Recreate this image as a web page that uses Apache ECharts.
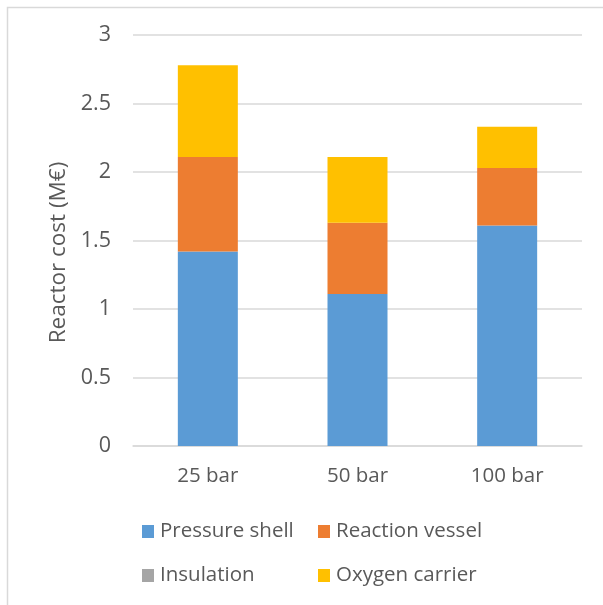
<!DOCTYPE html>
<html>
<head>
<meta charset="utf-8">
<script src="https://cdn.jsdelivr.net/npm/echarts@6/dist/echarts.min.js"></script>
<style>
  html, body { margin: 0; padding: 0; background: #fff; }
  #chart { width: 603px; height: 605px; }
</style>
</head>
<body>
<div id="chart"></div>
<script>
// Reactor cost breakdown per operating pressure (M€)
const categories = ['25 bar', '50 bar', '100 bar'];
const pressureShell = [1.42, 1.11, 1.61];
const reactionVessel = [0.69, 0.52, 0.42];
const insulation = [0, 0, 0];
const oxygenCarrier = [0.67, 0.48, 0.30];
const yTicks = { min: 0, max: 3, step: 0.5 };

const FONT = '"Open Sans", sans-serif';
const TEXT = '#595959';

const chart = echarts.init(document.getElementById('chart'), null, { renderer: 'canvas' });

function bar(name, data, color) {
  return {
    name, type: 'bar', stack: 'cost', data,
    barWidth: 60,
    itemStyle: { color },
    emphasis: { disabled: true }
  };
}

const legendCommon = {
  orient: 'vertical', top: 516, itemGap: 23,
  itemWidth: 12, itemHeight: 13, icon: 'rect',
  textStyle: { fontFamily: FONT, fontSize: 20.5, color: TEXT, padding: [0, 0, 0, 1] }
};

chart.setOption({
  animation: false,
  backgroundColor: '#fff',
  graphic: [{
    type: 'rect',
    shape: { x: 7.5, y: 7.5, width: 700, height: 700 },
    style: { fill: 'none', stroke: '#d9d9d9', lineWidth: 1.5 },
    silent: true
  }],
  grid: { left: 133, right: 21, top: 35, bottom: 159 },
  legend: [
    Object.assign({ left: 137, data: ['Pressure shell', 'Insulation'] }, legendCommon),
    Object.assign({ left: 313, data: ['Reaction vessel', 'Oxygen carrier'] }, legendCommon)
  ],
  xAxis: {
    type: 'category',
    data: categories,
    axisLine: { lineStyle: { color: '#d9d9d9', width: 1.5 } },
    axisTick: { show: false },
    axisLabel: { fontFamily: FONT, fontSize: 20.5, color: TEXT, margin: 20 }
  },
  yAxis: {
    type: 'value',
    min: yTicks.min, max: yTicks.max, interval: yTicks.step,
    name: 'Reactor cost (M€)',
    nameLocation: 'middle',
    nameGap: 58,
    nameTextStyle: { fontFamily: FONT, fontSize: 22.5, color: TEXT, padding: [0, 24, 0, 0] },
    axisLine: { show: false },
    axisTick: { show: false },
    axisLabel: { fontFamily: FONT, fontSize: 21.5, color: TEXT, margin: 22 },
    splitLine: { lineStyle: { color: '#d9d9d9', width: 1.5 } }
  },
  series: [
    bar('Pressure shell', pressureShell, '#5b9bd5'),
    bar('Reaction vessel', reactionVessel, '#ed7d31'),
    bar('Insulation', insulation, '#a5a5a5'),
    bar('Oxygen carrier', oxygenCarrier, '#ffc000')
  ]
});
</script>
</body>
</html>
